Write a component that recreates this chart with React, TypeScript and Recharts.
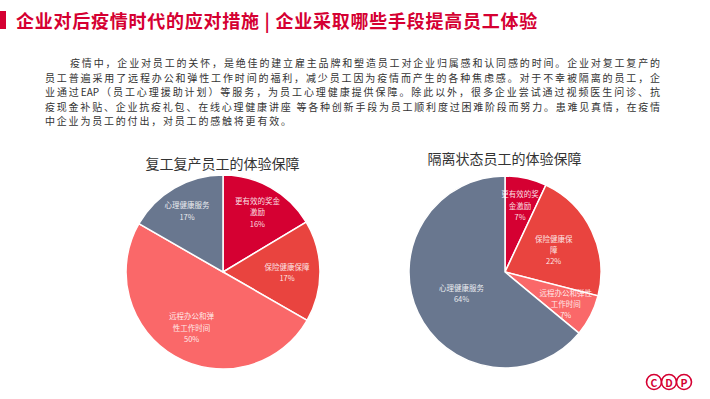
import React from 'react';
import { PieChart, Pie, Cell } from 'recharts';

const categories = ['更有效的奖金激励', '保险健康保障', '远程办公和弹性工作时间', '心理健康服务'];
const returnToWorkValues = [16.4, 16.9, 50, 16.7];
const returnToWorkLabels = ['16%', '17%', '50%', '17%'];
const quarantineValues = [7, 22, 7, 64];
const quarantineLabels = ['7%', '22%', '7%', '64%'];

const pageTitle = '企业对后疫情时代的应对措施 | 企业采取哪些手段提高员工体验';
const leftTitle = '复工复产员工的体验保障';
const rightTitle = '隔离状态员工的体验保障';
const paragraphLines = [
  '疫情中，企业对员工的关怀，是绝佳的建立雇主品牌和塑造员工对企业归属感和认同感的时间。企业对复工复产的',
  '员工普遍采用了远程办公和弹性工作时间的福利，减少员工因为疫情而产生的各种焦虑感。对于不幸被隔离的员工，企',
  '业通过EAP（员工心理援助计划）等服务，为员工心理健康提供保障。除此以外，很多企业尝试通过视频医生问诊、抗',
  '疫现金补贴、企业抗疫礼包、在线心理健康讲座 等各种创新手段为员工顺利度过困难阶段而努力。患难见真情，在疫情',
  '中企业为员工的付出，对员工的感触将更有效。',
];

const COLORS = ['#d50032', '#e9443f', '#fa6869', '#69778f'];
const RAD = Math.PI / 180;
const FONT = '"Noto Sans CJK SC", "Noto Sans", sans-serif';

const wrapText = (s: string, n: number) => {
  const out: string[] = [];
  for (let i = 0; i < s.length; i += n) out.push(s.slice(i, i + n));
  return out;
};

const makeLabel = (labels: string[], wraps: number[], fracs: number[]) => (props: any) => {
  const { cx, cy, midAngle, outerRadius, index } = props;
  const r = outerRadius * fracs[index];
  const x = cx + r * Math.cos(-midAngle * RAD);
  const y = cy + r * Math.sin(-midAngle * RAD);
  const lines = wrapText(categories[index], wraps[index]).concat(labels[index]);
  const lh = 11.3;
  const y0 = y - ((lines.length - 1) * lh) / 2;
  return (
    <text
      x={x}
      y={y0}
      textAnchor="middle"
      dominantBaseline="central"
      fill="rgba(255,255,255,0.88)"
      fontSize={7.5}
      fontFamily={FONT}
    >
      {lines.map((l, i) => (
        <tspan key={i} x={x} y={y0 + i * lh}>
          {l}
        </tspan>
      ))}
    </text>
  );
};

const PieBlock = ({
  values,
  labels,
  wraps,
  fracs,
  left,
  top,
  radius,
}: {
  values: number[];
  labels: string[];
  wraps: number[];
  fracs: number[];
  left: number;
  top: number;
  radius: number;
}) => {
  const data = categories.map((name, i) => ({ name, value: values[i] }));
  return (
    <div style={{ position: 'absolute', left, top }}>
      <PieChart width={240} height={240}>
        <Pie
          data={data}
          dataKey="value"
          nameKey="name"
          cx="50%"
          cy="50%"
          outerRadius={radius}
          startAngle={90}
          endAngle={-270}
          stroke="#ffffff"
          strokeWidth={1.5}
          labelLine={false}
          label={makeLabel(labels, wraps, fracs)}
          isAnimationActive={false}
        >
          {data.map((_, i) => (
            <Cell key={i} fill={COLORS[i]} />
          ))}
        </Pie>
      </PieChart>
    </div>
  );
};

export default function App() {
  return (
    <div
      style={{
        position: 'absolute',
        left: 0,
        top: 0,
        width: 710,
        height: 399,
        overflow: 'hidden',
        background: '#ffffff',
        fontFamily: FONT,
      }}
    >
      <div style={{ position: 'absolute', left: 0, top: 11, width: 6, height: 18, background: '#d50032' }} />
      <div
        style={{
          position: 'absolute',
          left: 16,
          top: 8,
          fontSize: 18,
          lineHeight: '24px',
          fontWeight: 700,
          color: '#d50032',
          letterSpacing: 0.75,
          whiteSpace: 'nowrap',
        }}
      >
        {pageTitle}
      </div>

      {paragraphLines.map((line, i) => {
        const isLast = i === paragraphLines.length - 1;
        const left = i === 0 ? 70 : 45;
        return (
          <div
            key={i}
            style={{
              position: 'absolute',
              left,
              top: 56 + i * 14.6,
              width: isLast ? undefined : 660 - left,
              fontSize: 10,
              lineHeight: '14px',
              color: '#333333',
              whiteSpace: 'nowrap',
              textAlign: 'justify',
              textAlignLast: isLast ? 'left' : 'justify',
              letterSpacing: isLast ? 1.8 : 0,
            }}
          >
            {line}
          </div>
        );
      })}

      <div
        style={{
          position: 'absolute',
          left: 222.5 - 100,
          top: 154,
          width: 200,
          textAlign: 'center',
          fontSize: 14,
          lineHeight: '18px',
          color: '#333333',
        }}
      >
        {leftTitle}
      </div>
      <div
        style={{
          position: 'absolute',
          left: 504.5 - 100,
          top: 149,
          width: 200,
          textAlign: 'center',
          fontSize: 14,
          lineHeight: '18px',
          color: '#333333',
        }}
      >
        {rightTitle}
      </div>

      <PieBlock
        values={returnToWorkValues}
        labels={returnToWorkLabels}
        wraps={[6, 6, 6, 6]}
        fracs={[0.72, 0.66, 0.65, 0.74]}
        left={103}
        top={152}
        radius={97}
      />
      <PieBlock
        values={quarantineValues}
        labels={quarantineLabels}
        wraps={[5, 5, 7, 6]}
        fracs={[0.72, 0.56, 0.71, 0.5]}
        left={385}
        top={152}
        radius={96}
      />

      <svg style={{ position: 'absolute', left: 640, top: 369 }} width={60} height={28}>
        {['C', 'D', 'P'].map((ch, i) => (
          <g key={ch}>
            <circle cx={14 + i * 15} cy={13} r={7.5} fill="#ffffff" stroke="#d50032" strokeWidth={1.6} />
            <text
              x={14 + i * 15}
              y={13}
              textAnchor="middle"
              dominantBaseline="central"
              fontSize={10.5}
              fontWeight={700}
              fill="#d50032"
              fontFamily={FONT}
            >
              {ch}
            </text>
          </g>
        ))}
      </svg>
    </div>
  );
}
